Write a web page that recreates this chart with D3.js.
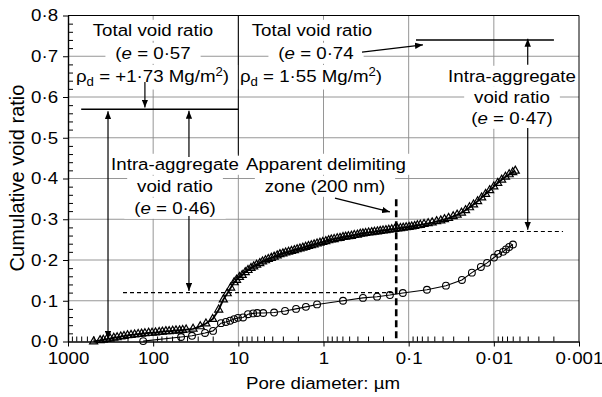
<!DOCTYPE html>
<html><head><meta charset="utf-8">
<script src="https://cdn.jsdelivr.net/npm/d3@7"></script>
<style>
html,body{margin:0;padding:0;background:#fff;}
svg{display:block;font-family:"Liberation Sans",Arial,Helvetica,sans-serif;}
</style></head>
<body>
<svg id="chart" width="602" height="397"></svg>
<script>
// ---- Data ----
const xTickValues = [1000, 100, 10, 1, 0.1, 0.01, 0.001];
const xTickLabels = ["1000", "100", "10", "1", "0·1", "0·01", "0·001"];
const yTickValues = [0, 0.1, 0.2, 0.3, 0.4, 0.5, 0.6, 0.7, 0.8];
const yTickLabels = ["0·0", "0·1", "0·2", "0·3", "0·4", "0·5", "0·6", "0·7", "0·8"];

// Triangle series (loose specimen, total e = 0.74)
const triDiameter = [500, 420, 385, 350, 320, 290, 265, 240, 220, 200, 182, 165, 150, 137, 125, 113, 103, 94, 85, 78, 71, 65, 59, 54, 49, 45, 41,
  34, 28, 24, 20, 17, 15, 13.5, 12.3, 11.2,
  10.5, 9.7, 9.0, 8.3, 7.7, 7.1, 6.6, 6.1, 5.6, 5.2, 4.8, 4.45, 4.1, 3.8, 3.5, 3.25, 3.0, 2.78, 2.57, 2.38, 2.2, 2.04, 1.89, 1.75, 1.62, 1.5, 1.39, 1.29, 1.19, 1.1, 1.02, 0.94, 0.87, 0.81, 0.75, 0.69, 0.64, 0.59, 0.55, 0.51, 0.47, 0.435, 0.40, 0.37, 0.345, 0.32, 0.295, 0.272, 0.252, 0.233, 0.216, 0.2, 0.185, 0.171, 0.158, 0.146, 0.135, 0.125, 0.116, 0.107, 0.099, 0.092, 0.085, 0.079, 0.073,
  0.066, 0.059, 0.053, 0.047, 0.042, 0.038, 0.034, 0.030, 0.027, 0.024, 0.0215, 0.0193, 0.0173, 0.0155, 0.0139, 0.0125, 0.0112, 0.0100, 0.0090, 0.0081, 0.0073, 0.0066, 0.0060, 0.0056];
const triVoid = [0.000, 0.003, 0.004, 0.006, 0.007, 0.009, 0.010, 0.012, 0.013, 0.015, 0.016, 0.017, 0.018, 0.019, 0.020, 0.021, 0.021, 0.022, 0.023, 0.024, 0.025, 0.025, 0.026, 0.027, 0.027, 0.028, 0.029,
  0.031, 0.037, 0.044, 0.055, 0.078, 0.103, 0.118, 0.132, 0.145,
  0.151, 0.158, 0.163, 0.170, 0.175, 0.180, 0.184, 0.188, 0.192, 0.196, 0.199, 0.202, 0.205, 0.208, 0.211, 0.214, 0.216, 0.218, 0.220, 0.222, 0.224, 0.226, 0.228, 0.230, 0.232, 0.234, 0.236, 0.238, 0.240, 0.242, 0.244, 0.246, 0.248, 0.250, 0.251, 0.253, 0.254, 0.256, 0.257, 0.258, 0.259, 0.261, 0.262, 0.264, 0.265, 0.266, 0.267, 0.268, 0.269, 0.270, 0.271, 0.272, 0.273, 0.274, 0.275, 0.276, 0.277, 0.278, 0.279, 0.280, 0.281, 0.282, 0.283, 0.285, 0.286,
  0.288, 0.290, 0.292, 0.295, 0.297, 0.300, 0.303, 0.307, 0.311, 0.316, 0.322, 0.329, 0.336, 0.344, 0.353, 0.362, 0.371, 0.380, 0.389, 0.397, 0.404, 0.410, 0.415, 0.419];

// Circle series (dense specimen, total e = 0.57)
const circDiameter = [131, 47, 35, 24.6, 19.8, 16.0, 14.0, 12.5, 11.2, 10.1, 8.8, 7.7, 6.7, 6.0, 5.1, 3.8, 2.83, 2.10, 1.61, 1.19, 0.59, 0.344, 0.235, 0.166, 0.117, 0.061, 0.0365, 0.0237, 0.0181, 0.0142, 0.0120, 0.00995, 0.0089, 0.0078, 0.0072, 0.0066, 0.00596];
const circVoid = [0.001, 0.011, 0.014, 0.021, 0.026, 0.045, 0.048, 0.051, 0.055, 0.058, 0.059, 0.067, 0.069, 0.070, 0.070, 0.071, 0.075, 0.080, 0.085, 0.091, 0.100, 0.107, 0.110, 0.114, 0.119, 0.127, 0.137, 0.151, 0.169, 0.183, 0.193, 0.206, 0.215, 0.220, 0.226, 0.232, 0.238];

// Reference levels
const totalVoidDense = 0.57, totalVoidLoose = 0.74;
const intraDense = 0.12, intraLoose = 0.27;
const delimitingDiameter = 0.14;

// ---- Chart ----
const svg = d3.select("#chart");
svg.append("rect").attr("width", 602).attr("height", 397).attr("fill", "#fff");

const x = d3.scaleLog().domain([1000, 0.001]).range([68, 579]);
const y = d3.scaleLinear().domain([0, 0.8]).range([341.5, 15.5]);
const FONT = 17, SX = 1.1;

const defs = svg.append("defs");
defs.append("marker").attr("id", "ah").attr("viewBox", "0 0 10 8")
  .attr("refX", 10).attr("refY", 4).attr("markerWidth", 8).attr("markerHeight", 6.5)
  .attr("markerUnits", "userSpaceOnUse").attr("orient", "auto-start-reverse")
  .append("path").attr("d", "M0,0 L10,4 L0,8 Z").attr("fill", "#000");

// Grid
const grid = svg.append("g").attr("stroke", "#8a8a8a").attr("stroke-width", 0.9);
xTickValues.slice(1, -1).forEach(v => grid.append("line")
  .attr("x1", x(v)).attr("x2", x(v)).attr("y1", y(0)).attr("y2", y(0.8)));
yTickValues.slice(1, -1).forEach(v => grid.append("line")
  .attr("x1", x(1000)).attr("x2", x(0.001)).attr("y1", y(v)).attr("y2", y(v)));

// Annotation text with white backgrounds
const textLayer = svg.append("g");
function label(cx, base, parts, padX = 9, padY = 1) {
  const g = textLayer.append("g").attr("transform", `translate(${cx},${base}) scale(${SX},1)`);
  const bg = g.append("rect").attr("fill", "#fff");
  const t = g.append("text").attr("text-anchor", "middle").attr("font-size", FONT).attr("fill", "#000");
  parts.forEach(p => {
    const s = typeof p === "string" ? { t: p } : p;
    const ts = t.append("tspan").text(s.t);
    if (s.i) ts.attr("font-style", "italic");
    if (s.sub) ts.attr("baseline-shift", "-30%").attr("font-size", 12);
    if (s.sup) ts.attr("baseline-shift", "45%").attr("font-size", 12);
  });
  const bb = t.node().getBBox();
  bg.attr("x", bb.x - padX).attr("y", bb.y - padY).attr("width", bb.width + 2 * padX).attr("height", bb.height + 2 * padY);
}
label(153, 36, ["Total void ratio"]);
label(153, 59, ["(", { t: "e", i: true }, " = 0·57"]);
label(152.5, 82, ["ρ", { t: "d", sub: true }, " = +1·73 Mg/m", { t: "2", sup: true }, ")"], 6);
label(312, 36, ["Total void ratio"]);
label(316, 59, ["(", { t: "e", i: true }, " = 0·74"]);
label(311, 82, ["ρ", { t: "d", sub: true }, " = 1·55 Mg/m", { t: "2", sup: true }, ")"], 6);
label(175, 170, ["Intra-aggregate"], 5);
label(175, 192, ["void ratio"]);
label(175, 214, ["(", { t: "e", i: true }, " = 0·46)"]);
label(326, 170, ["Apparent delimiting"], 5);
label(325, 192, ["zone (200 nm)"]);
label(512, 82, ["Intra-aggregate"], 5);
label(512, 103, ["void ratio"]);
label(512, 124, ["(", { t: "e", i: true }, " = 0·47)"]);

// Axes
const xAxis = svg.append("g").attr("transform", `translate(0,${y(0)})`)
  .call(d3.axisBottom(x).tickValues(xTickValues).tickFormat((d, i) => xTickLabels[i]).tickSize(5).tickSizeOuter(0).tickPadding(5));
const xMinor = x.ticks().filter(v => !xTickValues.some(m => Math.abs(Math.log10(m) - Math.log10(v)) < 1e-6));
svg.append("g").attr("transform", `translate(0,${y(0)})`)
  .call(d3.axisTop(x).tickValues(xMinor).tickFormat("").tickSize(5).tickSizeOuter(0))
  .call(g => g.select(".domain").remove());
const yAxis = svg.append("g").attr("transform", `translate(${x(1000)},0)`)
  .call(d3.axisLeft(y).tickValues(yTickValues).tickFormat((d, i) => yTickLabels[i]).tickSize(5).tickSizeOuter(0).tickPadding(4));
const yMinor = d3.range(1, 40).map(i => i * 0.02).filter(v => Math.abs(v * 10 - Math.round(v * 10)) > 1e-6);
svg.append("g").attr("transform", `translate(${x(1000)},0)`)
  .call(d3.axisRight(y).tickValues(yMinor).tickFormat("").tickSize(5).tickSizeOuter(0))
  .call(g => g.select(".domain").remove());
[xAxis, yAxis].forEach(a => {
  a.selectAll("text").attr("font-size", FONT).attr("font-family", "'Liberation Sans',Arial,sans-serif").attr("fill", "#000")
    .attr("transform", `scale(${SX},1)`);
  a.select(".domain").attr("stroke-width", 1.4);
});
svg.selectAll(".tick line").attr("stroke", "#000").attr("stroke-width", 1);
// top / right frame
svg.append("path").attr("fill", "none").attr("stroke", "#000").attr("stroke-width", 1)
  .attr("d", `M${x(1000)},${y(0.8)} H${x(0.001)} V${y(0)}`);

// Axis titles
svg.append("text").attr("transform", `translate(323,389) scale(${SX},1)`).attr("text-anchor", "middle")
  .attr("font-size", FONT).text("Pore diameter: µm");
svg.append("text").attr("transform", "translate(24,178) rotate(-90)").attr("text-anchor", "middle")
  .attr("font-size", 20).text("Cumulative void ratio");

// Annotation lines
const ann = svg.append("g").attr("stroke", "#000").attr("fill", "none");
function seg(d1, e1, d2, e2, w = 1.2, arrowEnd = false, arrowStart = false, dash = null) {
  const l = ann.append("line").attr("x1", x(d1)).attr("y1", y(e1)).attr("x2", x(d2)).attr("y2", y(e2)).attr("stroke-width", w);
  if (arrowEnd) l.attr("marker-end", "url(#ah)");
  if (arrowStart) l.attr("marker-start", "url(#ah)");
  if (dash) l.attr("stroke-dasharray", dash);
}
seg(700, totalVoidDense, 10, totalVoidDense, 1.6);
seg(10, 0.8, 10, 0.456, 1);
seg(0.082, totalVoidLoose, 0.00197, totalVoidLoose, 1.6);
seg(125, 0.637, 125, 0.574, 1.2, true);
seg(339, 0.565, 339, 0.006, 1.2, true, true);
seg(38, 0.453, 38, 0.566, 1.2, true);
seg(38, 0.308, 38, 0.124, 1.2, true);
seg(0.353, 0.710, 0.068, 0.728, 1.2, true);
seg(0.733, 0.352, 0.166, 0.318, 1.2, true);
seg(0.004, 0.679, 0.004, 0.743, 1.2, true);
seg(0.004, 0.524, 0.004, 0.274, 1.2, true);
seg(226, intraDense, 0.145, intraDense, 1.1, false, false, "4,3");
seg(0.07, intraLoose, 0.00154, intraLoose, 1.1, false, false, "4,3");
seg(delimitingDiameter, 0.008, delimitingDiameter, 0.35, 2.6, false, false, "7,4");

// Data
const tri = triDiameter.map((d, i) => ({ d, e: triVoid[i] }));
const circ = circDiameter.map((d, i) => ({ d, e: circVoid[i] }));
const line = d3.line().x(p => x(p.d)).y(p => y(p.e));
svg.append("path").datum(circ).attr("d", line).attr("fill", "none").attr("stroke", "#000").attr("stroke-width", 1.1);
svg.append("path").datum(tri).attr("d", line).attr("fill", "none").attr("stroke", "#000").attr("stroke-width", 1.8);
svg.append("g").selectAll("circle").data(circ).join("circle")
  .attr("cx", p => x(p.d)).attr("cy", p => y(p.e)).attr("r", 3.4)
  .attr("fill", "none").attr("stroke", "#000").attr("stroke-width", 1.1);
const triSym = d3.symbol().type(d3.symbolTriangle).size(28);
svg.append("g").selectAll("path").data(tri).join("path")
  .attr("transform", p => `translate(${x(p.d)},${y(p.e)})`).attr("d", triSym)
  .attr("fill", "none").attr("stroke", "#000").attr("stroke-width", 1.2);
</script>
</body></html>
